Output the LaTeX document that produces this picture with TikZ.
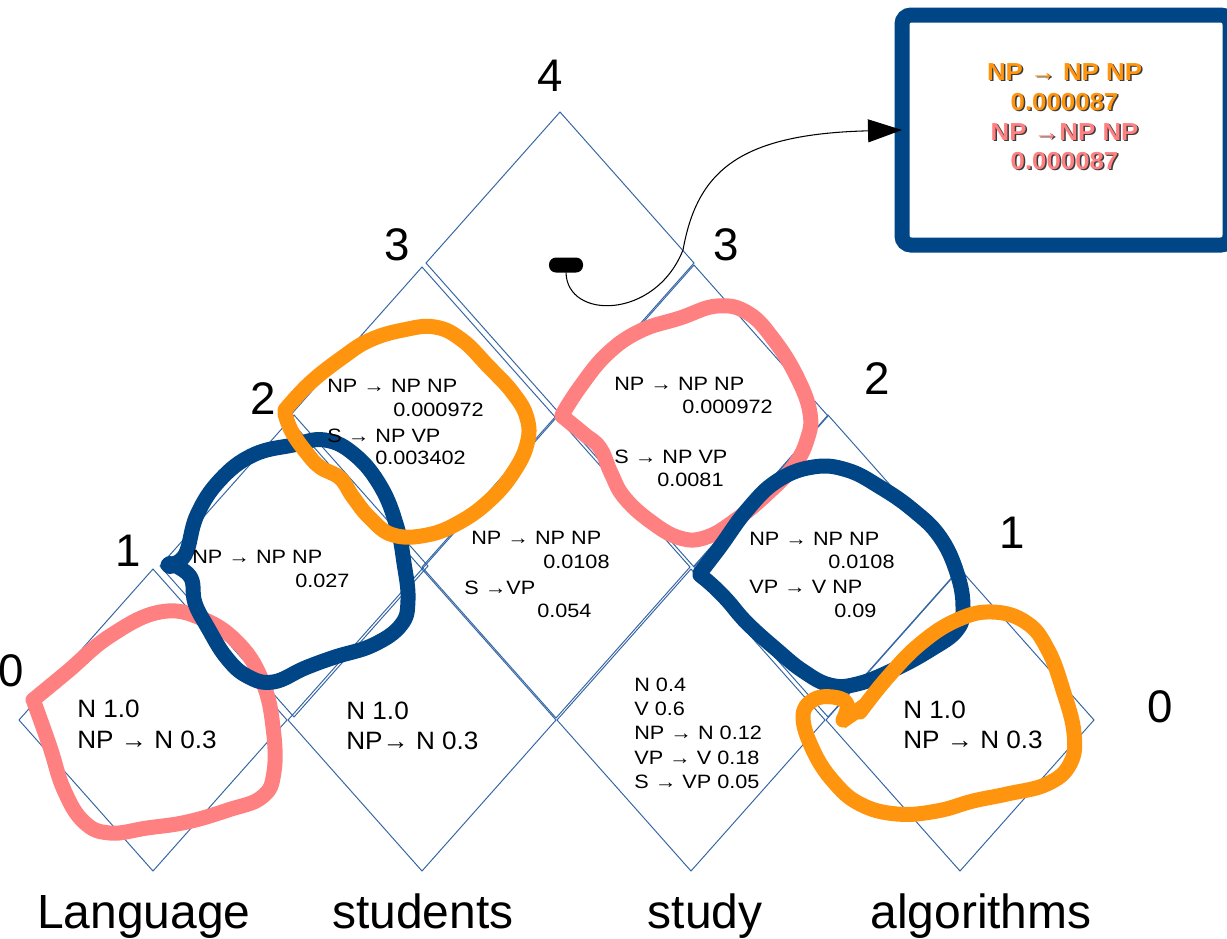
\documentclass[tikz,border=0pt]{standalone}
\usepackage{fontspec}
\setmainfont{Liberation Sans}
\newfontfamily\cellfont[FakeStretch=1.12]{Liberation Sans}
\newfontfamily\leaffont[FakeStretch=1.04]{Liberation Sans}
\newfontfamily\boxfont[FakeStretch=1.05]{Liberation Sans}
\usetikzlibrary{arrows.meta}

\definecolor{gridblue}{HTML}{3465A4}
\definecolor{navy}{HTML}{004586}
\definecolor{amber}{HTML}{FF950E}
\definecolor{salmon}{HTML}{FF8080}
\definecolor{shade}{HTML}{3C3C3C}

\tikzset{
  cellline/.style={draw=gridblue, line width=0.55pt, line join=miter},
  chartcell/.pic={\path[cellline] (-134,0) -- (0,-151) -- (134,0) -- (0,151) -- cycle;},
  index/.style={font=\fontsize{26}{30}\selectfont, inner sep=0pt},
  word/.style={font=\fontsize{27.3}{32}\selectfont, inner sep=0pt, anchor=base},
  leaf/.style={font=\leaffont\fontsize{14.3}{17}\selectfont, anchor=base west, inner sep=0pt},
  rule/.style={font=\cellfont\fontsize{11}{13}\selectfont, anchor=base west, inner sep=0pt},
  boxtext/.style={font=\boxfont\bfseries\fontsize{14}{16}\selectfont, anchor=base, inner sep=0pt},
  marker/.style={line width={15*0.02cm}, line cap=round, line join=round},
  resultbox/.style={draw=navy, fill=white, line width={15*0.02cm}, rounded corners={9*0.02cm},
    minimum width={328*0.02cm}, minimum height={230*0.02cm}, outer sep=0pt, inner sep=0pt},
  pill/.style={fill=black, rounded corners={7*0.02cm}, minimum width={34*0.02cm},
    minimum height={15*0.02cm}, inner sep=0pt, outer sep=0pt},
}

\begin{document}
\begin{tikzpicture}[x=0.02cm, y=-0.02cm]
\useasboundingbox[fill=white] (0,0) rectangle (1227,938);

% chart cells, top row first
\pic at (560,263) {chartcell};
\pic at (422,418) {chartcell};
\pic at (694,416) {chartcell};
\pic at (294,566) {chartcell};
\pic at (556,567) {chartcell};
\pic at (828,566) {chartcell};
\pic at (153,720) {chartcell};
\pic at (422,720) {chartcell};
\pic at (691,720) {chartcell};
\pic at (960,720) {chartcell};

% span indices along both sides
\node[index] (iL0) at (11,671) {0};
\node[index] (iL1) at (128,551) {1};
\node[index] (iL2) at (263,399) {2};
\node[index] (iL3) at (397,245) {3};
\node[index] (iT4) at (550,76) {4};
\node[index] (iR3) at (726,245) {3};
\node[index] (iR2) at (877,379) {2};
\node[index] (iR1) at (1012,533) {1};
\node[index] (iR0) at (1160,707) {0};

% words
\node[word] (w1) at (144,928) {Language};
\node[word] (w2) at (423,928) {students};
\node[word] (w3) at (705,928) {study};
\node[word] (w4) at (981,928) {algorithms};

% highlighted entries: pink first, then blue, then orange on top
\draw[marker, salmon] plot[smooth, tension=0.7] coordinates {(33,700) (67,672) (110,636) (160,612) (203,619) (240,645) (263,683) (273,727) (274,772) (262,797) (228,810) (187,822) (147,828) (110,833) (84,822) (64,790) (50,747) (34,702)};
\draw[marker, salmon] plot[smooth, tension=0.7] coordinates {(562,415) (580,387) (607,354) (640,331) (680,318) (717,306) (748,313) (774,340) (797,377) (810,413) (807,440) (793,467) (767,494) (737,519) (707,537) (680,538) (650,521) (624,497) (611,473) (600,448) (584,434) (562,416)};

\draw[marker, navy] plot[smooth, tension=0.7] coordinates {(168,565) (185,555) (197,515) (220,480) (253,455) (293,445) (325,440) (355,455) (381,487) (397,527) (404,563) (408,600) (401,625) (373,645) (335,657) (305,668) (273,682) (247,676) (226,657) (208,628) (195,603) (191,578) (176,566)};
\fill[navy] (170,565) circle (9);
\draw[marker, navy] plot[smooth, tension=0.7] coordinates {(700,573) (720,547) (747,510) (777,481) (813,467) (847,470) (880,487) (913,510) (940,537) (957,573) (963,607) (957,630) (930,650) (893,670) (857,684) (830,685) (803,671) (777,650) (747,623) (727,600) (712,585) (700,575)};

\draw[marker, amber] plot[smooth, tension=0.7] coordinates {(285,410) (310,383) (343,357) (370,340) (403,330) (435,327) (462,340) (488,366) (513,393) (527,418) (527,444) (513,473) (490,500) (460,522) (427,535) (393,535) (370,518) (353,497) (340,478) (320,467) (306,452) (292,432) (285,414)};
\draw[marker, amber] plot[smooth, tension=0.7] coordinates {(860,712) (887,678) (920,644) (957,620) (993,612) (1027,623) (1048,650) (1063,690) (1074,733) (1070,764) (1047,784) (1007,794) (973,801) (937,811) (897,814) (860,804) (833,781) (813,750) (803,717) (813,700) (833,697) (847,704) (843,720)};
\draw[marker, amber, line cap=butt] (841,722) -- (864,706);

% cell contents
\node[leaf] (a1) at (77,717) {N 1.0};
\node[leaf] (a2) at (77,748) {NP → N 0.3};
\node[leaf] (b1) at (346,719) {N 1.0};
\node[leaf] (b2) at (346,749) {NP→ N 0.3};
\node[leaf] (d1) at (903,718) {N 1.0};
\node[leaf] (d2) at (903,748) {NP → N 0.3};

\node[rule] (c1) at (634,691) {N 0.4};
\node[rule] (c2) at (634,715) {V 0.6};
\node[rule] (c3) at (634,739) {NP → N 0.12};
\node[rule] (c4) at (634,764) {VP → V 0.18};
\node[rule] (c5) at (634,788) {S → VP 0.05};

\node[rule] (ab1) at (192,563) {NP → NP NP};
\node[rule] (ab2) at (295,587) {0.027};

\node[rule] (bc1) at (471,544) {NP → NP NP};
\node[rule] (bc2) at (543,568) {0.0108};
\node[rule] (bc3) at (464,594) {S →VP};
\node[rule] (bc4) at (537,617) {0.054};

\node[rule] (cd1) at (749,545) {NP → NP NP};
\node[rule] (cd2) at (828,568) {0.0108};
\node[rule] (cd3) at (749,593) {VP → V NP};
\node[rule] (cd4) at (834,617) {0.09};

\node[rule] (ac1) at (327,392) {NP → NP NP};
\node[rule] (ac2) at (393,416) {0.000972};
\node[rule] (ac3) at (327,442) {S → NP VP};
\node[rule] (ac4) at (375,464) {0.003402};

\node[rule] (bd1) at (614,390) {NP → NP NP};
\node[rule] (bd2) at (682,413) {0.000972};
\node[rule] (bd3) at (614,463) {S → NP VP};
\node[rule] (bd4) at (657,486) {0.0081};

% pointer from the top cell to its expanded contents
\node[resultbox] (result) at (1066,130) {};
\node[pill] (ptr) at (566,265) {};
\draw[line width=0.6pt, -{Triangle[length={34*0.02cm}, width={23*0.02cm}]}]
  (ptr.south) .. controls (567,320) and (655,320) .. (683,250)
  .. controls (697,172) and (738,134) .. (result.west);

\node[boxtext, text=shade] (s1) at (1066,81.5) {NP → NP NP};
\node[boxtext, text=amber] (t1) at (1064.5,80) {NP → NP NP};
\node[boxtext, text=shade] (s2) at (1066,111.5) {0.000087};
\node[boxtext, text=amber] (t2) at (1064.5,110) {0.000087};
\node[boxtext, text=shade] (s3) at (1066,141.5) {NP →NP NP};
\node[boxtext, text=salmon] (t3) at (1064.5,140) {NP →NP NP};
\node[boxtext, text=shade] (s4) at (1066,170.5) {0.000087};
\node[boxtext, text=salmon] (t4) at (1064.5,169) {0.000087};
\end{tikzpicture}
\end{document}
